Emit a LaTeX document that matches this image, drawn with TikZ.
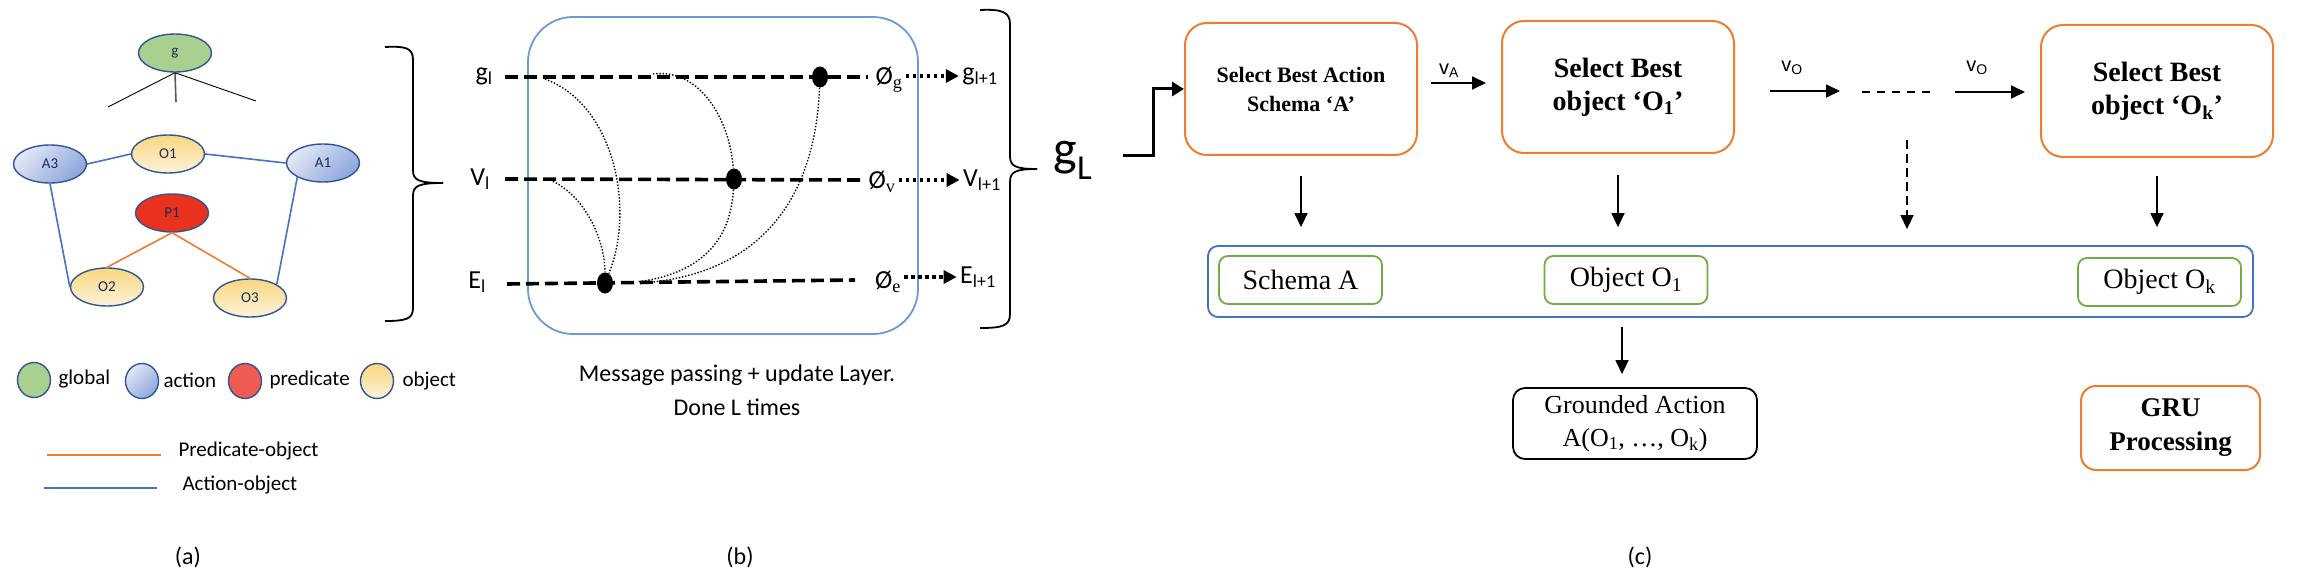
\documentclass[tikz,border=0pt]{standalone}
\usepackage{fontspec}
\setmainfont{Carlito}
\newfontfamily\tms{Liberation Serif}
\newfontfamily\arl{Liberation Sans}
\usetikzlibrary{shapes.geometric,arrows.meta}
\definecolor{orng}{HTML}{ED7D31}
\definecolor{blu}{HTML}{4472C4}
\definecolor{grn}{HTML}{70AD47}
\definecolor{lblue}{HTML}{6C9BD2}
\definecolor{nodeb}{HTML}{2F5597}
\definecolor{txtnavy}{HTML}{1F2A5C}
\definecolor{gfill}{HTML}{A9D08E}
\definecolor{predfill}{HTML}{E8321E}
\definecolor{predleg}{HTML}{EE5B50}
\definecolor{actL}{HTML}{E2E8F5}
\definecolor{actD}{HTML}{8EA6DB}
\definecolor{objT}{HTML}{F9D77E}
\definecolor{objB}{HTML}{FDF2DA}
\newcommand\fsz[2]{\fontsize{#1}{#2}\selectfont}
\begin{document}
\begin{tikzpicture}[x=1pt,y=-1pt,
  ell/.style={ellipse, draw=nodeb, line width=1.4pt, minimum width=73pt, minimum height=38pt, inner sep=0pt, text=txtnavy, font=\fsz{15}{15}},
  act/.style={ell, top color=actL, bottom color=actD, shading angle=45},
  obj/.style={ell, top color=objT, bottom color=objB},
  legc/.style={minimum width=33pt, minimum height=35pt},
  edgeb/.style={draw=blu, line width=1.6pt},
  edgeo/.style={draw=orng, line width=1.6pt},
  leg/.style={anchor=west, font=\fsz{21}{21}},
  figcap/.style={font=\fsz{24}{24}},
  brc/.style={line width=1.8pt},
  dsh/.style={line width=3.6pt, dash pattern=on 13pt off 6pt},
  dts/.style={line width=1.4pt, dash pattern=on 1.4pt off 1.8pt},
  blob/.style={ellipse, fill=black, minimum width=16pt, minimum height=21pt, inner sep=0pt},
  darr/.style={line width=3.5pt, dash pattern=on 3.5pt off 3.5pt, -{Triangle[length=13pt,width=13pt]}},
  tl/.style={font=\fsz{26}{26}},
  obox/.style={draw=orng, line width=2pt, rounded corners=22pt, minimum width=232pt, minimum height=132pt, align=center},
  gbox/.style={draw=grn, line width=1.8pt, rounded corners=9pt, minimum width=163pt, minimum height=48pt, font=\tms\fsz{28}{28}},
  arr/.style={line width=1.4pt, -{Triangle[length=14pt,width=13pt]}},
  varr/.style={line width=1.8pt, -{Triangle[length=14pt,width=13pt]}},
  vlab/.style={font=\arl\fsz{20}{20}}
]
\useasboundingbox (0,0) rectangle (2308,572);
\fill[white] (0,0) rectangle (2308,572);

% ---------------- panel (a)
\node[ell, fill=gfill] (g) at (175,53) {g};
\node[act] (A3) at (50,164) {A3};
\node[obj] (O1) at (168,154) {O1};
\node[act] (A1) at (323,163) {A1};
\node[ell, fill=predfill] (P1) at (172,213) {P1};
\node[obj] (O2) at (107,287) {O2};
\node[obj] (O3) at (250,298) {O3};
\coordinate (gLl) at (108,107);
\coordinate (gLm) at (176,102);
\coordinate (gLr) at (256,101);
\draw[line width=0.9pt] (g.south) -- (gLl);
\draw[line width=1.6pt, black!65] (g.south) -- (gLm);
\draw[line width=0.9pt] (g.south) -- (gLr);
\draw[edgeb] (A3.east) -- (O1.west);
\draw[edgeb] (O1.east) -- (A1.west);
\draw[edgeb] (A3.south) -- (O2.west);
\draw[edgeb] (A1.209) -- (O3.27);
\draw[edgeo] (P1.south) -- (O2.north);
\draw[edgeo] (P1.south) -- (O3.north);

% legend
\node[ell, legc, fill=gfill] (lg) at (34,380) {};
\node[leg] (tg) at (55,379) {global};
\node[act, legc] (la) at (142,381) {};
\node[leg] (ta) at (160,380) {action};
\node[ell, legc, fill=predleg] (lp) at (245,381) {};
\node[leg] (tp) at (266,380) {predicate};
\node[obj, legc] (lo) at (377,381) {};
\node[leg] (to) at (399,381) {object};
\coordinate (po1) at (47,455);
\coordinate (po2) at (161,455);
\draw[edgeo] (po1) -- (po2);
\node[leg] (tpo) at (175,451) {Predicate-object};
\coordinate (ao1) at (44,488);
\coordinate (ao2) at (157,488);
\draw[edgeb] (ao1) -- (ao2);
\node[leg] (tao) at (179,485) {Action-object};
\node[figcap] (capa) at (188,557) {(a)};

% brace 1
\draw[brc] (385,47) .. controls (406,46) and (413,48) .. (413,60) -- (413,170)
  .. controls (413,180) and (418,183) .. (443,183);
\draw[brc] (443,183) .. controls (418,183) and (413,186) .. (413,196) -- (413,308)
  .. controls (413,319) and (406,321) .. (385,321);

% ---------------- panel (b)
\node[draw=lblue, line width=1.8pt, rounded corners=45pt, minimum width=390pt, minimum height=317pt] (mpbox) at (723,175.5) {};
\node[tl] (gl) at (484,76) {g\textsubscript{l}};
\node[tl] (vl) at (480,179) {V\textsubscript{l}};
\node[tl] (el) at (477,282) {E\textsubscript{l}};
\node[tl] (phg) at (889,80) {Ø\textsubscript{\tms g}};
\node[tl] (phv) at (882,182) {Ø\textsubscript{\tms v}};
\node[tl] (phe) at (888,282) {Ø\textsubscript{\tms e}};
\node[tl] (glp) at (980,76) {g\textsubscript{l+1}};
\node[tl] (vlp) at (982,180) {V\textsubscript{l+1}};
\node[tl] (elp) at (978,277) {E\textsubscript{l+1}};

\coordinate (g0) at (505,77);  \coordinate (g1) at (868,77);
\coordinate (v0) at (505,179); \coordinate (v1) at (862,180);
\coordinate (e0) at (507,284); \coordinate (e1) at (855,280);
\draw[dsh] (g0) -- (g1);
\draw[dsh] (v0) -- (v1);
\draw[dsh] (e0) -- (e1);

\node[blob] (dg) at (820,77) {};
\node[blob] (dv) at (734,179) {};
\node[blob] (de) at (605,283) {};

\coordinate (c1s) at (545,79);
\coordinate (c2s) at (550,180);
\coordinate (c3s) at (653,74);
\coordinate (c4e) at (637,282);
\coordinate (c5e) at (653,282);
\draw[dts] (c1s) .. controls (615,105) and (635,210) .. (de);
\draw[dts] (c2s) .. controls (585,195) and (605,240) .. (de);
\draw[dts] (c3s) .. controls (700,68) and (730,120) .. (dv);
\draw[dts] (dv) .. controls (730,250) and (690,275) .. (c4e);
\draw[dts] (dg) .. controls (815,200) and (760,270) .. (c5e);

\draw[darr] (phg.east |- glp.west) -- (glp.west);
\draw[darr] (phv.east |- vlp.west) -- (vlp.west);
\draw[darr] (phe.east |- elp.west) -- (elp.west);

\node[font=\fsz{24}{34}, align=center] (mptxt) at (737,390) {Message passing + update Layer.\\Done L times};
\node[figcap] (capb) at (740,557) {(b)};

% brace 2
\draw[brc] (980,10) .. controls (1002,9) and (1010,12) .. (1010,24) -- (1010,156)
  .. controls (1010,166) and (1015,169) .. (1037,169);
\draw[brc] (1037,169) .. controls (1015,169) and (1010,172) .. (1010,182) -- (1010,314)
  .. controls (1010,326) and (1002,328) .. (980,328);
\node[font=\fsz{50}{50}] (gL) at (1073,160) {g\textsubscript{L}};

% ---------------- panel (c)
\node[obox, font=\tms\bfseries\fsz{22}{29}] (sa) at (1301,89) {Select Best Action\\Schema ‘A’};
\node[obox, font=\tms\bfseries\fsz{28}{33}] (so1) at (1618,87) {Select Best\\object ‘O\textsubscript{1}’};
\node[obox, font=\tms\bfseries\fsz{28}{33}] (sok) at (2157,91) {Select Best\\object ‘O\textsubscript{k}’};

\coordinate (gs) at (1123,156);
\draw[line width=3pt, -{Triangle[length=12pt,width=14pt]}] (gs) -- (1153,156) |- (sa.west);

\draw[varr, shorten <=13pt, shorten >=15pt] ([yshift=6pt]sa.east) -- ([yshift=6pt]sa.east -| so1.west);
\node[vlab] (va) at (1449,71) {v\textsubscript{A}};

\coordinate (vo1s) at (1770,91); \coordinate (vo1e) at (1840,91);
\coordinate (d1) at (1862,92);   \coordinate (d2) at (1932,92);
\coordinate (vo2s) at (1955,92); \coordinate (vo2e) at (2025,92);
\draw[varr] (vo1s) -- (vo1e);
\draw[line width=1.6pt, dash pattern=on 8pt off 7pt] (d1) -- (d2);
\draw[varr] (vo2s) -- (vo2e);
\node[vlab] (vo1) at (1792,68) {v\textsubscript{O}};
\node[vlab] (vo2) at (1977,68) {v\textsubscript{O}};

\node[draw=blu, line width=1.8pt, rounded corners=10pt, minimum width=1045pt, minimum height=71pt] (cont) at (1730.5,281.5) {};
\node[gbox] (bsa) at (1300.5,280) {Schema A};
\node[gbox] (bo1) at (1626,280) {Object O\textsubscript{1}};
\node[gbox] (bok) at (2159.5,282) {Object O\textsubscript{k}};

\draw[arr, shorten <=20pt, shorten >=18pt] (sa.south) -- (sa.south |- cont.north);
\draw[arr, shorten <=21pt, shorten >=18pt] (so1.south) -- (so1.south |- cont.north);
\draw[arr, shorten <=18pt, shorten >=18pt] (sok.south) -- (sok.south |- cont.north);
\coordinate (dd) at (1907,140);
\draw[arr, dash pattern=on 9pt off 5pt, shorten >=16pt] (dd) -- (dd |- cont.north);

\node[draw=black, line width=1.8pt, rounded corners=12pt, minimum width=244pt, minimum height=71pt, align=center, font=\tms\fsz{26}{33}] (gr) at (1635,423.5) {Grounded Action\\A(O\textsubscript{1}, …, O\textsubscript{k})};
\draw[arr, shorten <=9pt, shorten >=13pt] (cont.south -| 1622,0) -- (gr.north -| 1622,0);

\node[draw=orng, line width=2pt, rounded corners=15pt, minimum width=179pt, minimum height=84pt, align=center, font=\tms\bfseries\fsz{27}{34}] (gru) at (2170.5,428) {GRU\\Processing};
\node[figcap] (capc) at (1640,557) {(c)};
\end{tikzpicture}
\end{document}
